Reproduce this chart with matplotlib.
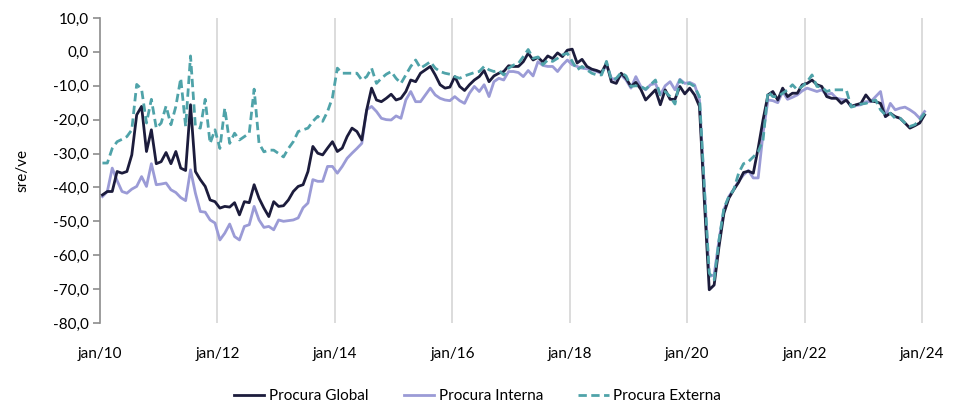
import numpy as np
import matplotlib
matplotlib.use("Agg")
import matplotlib.pyplot as plt
from matplotlib.ticker import FuncFormatter

# monthly values, jan/10 .. jan/24 (sre/ve)
procura_global = [
    -42.2, -41.2, -41.2, -35.3, -35.8, -35.3, -30.4, -18.6, -16.1, -29.4,
    -23.0, -33.0, -32.4, -29.7, -33.0, -29.4, -34.3, -35.0, -15.6, -35.3,
    -37.7, -39.7, -43.7, -44.2, -46.1, -45.6, -45.8, -44.5, -48.1, -44.2,
    -44.5, -39.2, -43.2, -46.1, -48.6, -44.2, -45.6, -45.4, -43.7, -41.2,
    -39.7, -39.2, -35.3, -27.9, -29.9, -30.4, -28.4, -26.5, -29.4, -28.4,
    -25.0, -22.5, -23.5, -26.0, -17.1, -10.7, -14.2, -14.7, -13.7, -12.5,
    -14.2, -13.7, -11.7, -8.3, -8.8, -6.3, -5.3, -4.3, -6.8, -9.7,
    -10.7, -10.4, -7.3, -10.2, -11.4, -9.7, -8.3, -7.3, -5.5, -8.8,
    -7.1, -6.3, -5.8, -4.1, -4.3, -4.3, -2.9, -0.4, -2.4, -1.6,
    -3.0, -1.2, -2.0, -0.3, -1.4, 0.5, 0.8, -3.3, -2.2, -4.3,
    -5.1, -5.5, -6.1, -3.3, -8.8, -9.3, -6.3, -7.8, -10.2, -9.0,
    -11.0, -14.2, -12.7, -11.2, -15.6, -11.2, -14.0, -14.0, -10.2, -12.4,
    -10.7, -12.7, -16.1, -44.0, -70.2, -68.8, -57.4, -47.6, -43.2, -40.7,
    -38.5, -35.6, -35.2, -35.8, -28.4, -20.0, -12.7, -11.7, -14.2, -10.7,
    -13.2, -12.2, -12.2, -9.7, -9.3, -8.3, -9.7, -10.2, -13.2, -13.7,
    -13.7, -15.2, -14.2, -16.1, -15.6, -15.2, -12.7, -14.5, -14.7, -15.2,
    -19.1, -18.1, -19.1, -19.6, -21.0, -22.5, -21.8, -21.0, -18.6,
]
procura_interna = [
    -42.7, -41.2, -34.3, -38.0, -41.2, -41.7, -40.5, -39.7, -36.8, -39.7,
    -33.0, -39.2, -39.0, -38.7, -40.7, -41.5, -43.0, -43.9, -34.8, -41.7,
    -47.1, -47.3, -49.6, -50.5, -55.5, -53.5, -50.8, -54.5, -55.5, -51.5,
    -51.0, -45.6, -49.6, -51.8, -51.5, -52.5, -49.6, -50.0, -49.8, -49.6,
    -49.0, -46.0, -44.6, -37.7, -38.2, -38.2, -33.8, -33.8, -35.8, -33.8,
    -31.4, -29.9, -28.5, -27.0, -17.1, -16.1, -17.6, -19.6, -20.0, -20.1,
    -18.9, -19.6, -14.2, -11.7, -14.7, -14.7, -12.7, -10.7, -12.7, -13.7,
    -14.2, -14.4, -13.2, -14.4, -15.2, -12.2, -10.2, -11.7, -9.7, -13.2,
    -8.8, -7.8, -8.3, -5.8, -5.8, -6.1, -7.3, -5.5, -7.1, -2.9,
    -4.0, -4.3, -4.3, -5.8, -3.9, -2.4, -3.8, -4.3, -4.8, -5.0,
    -5.3, -5.8, -6.3, -3.8, -7.8, -8.3, -6.8, -8.3, -10.7, -7.3,
    -10.2, -11.2, -9.7, -9.3, -12.7, -10.0, -8.8, -11.2, -8.1, -9.3,
    -9.0, -9.7, -14.2, -40.0, -66.3, -65.8, -55.5, -46.6, -42.7, -40.5,
    -38.2, -36.3, -35.0, -37.2, -37.2, -24.0, -14.2, -14.4, -15.0, -11.7,
    -14.0, -13.4, -12.7, -11.5, -10.7, -11.2, -11.7, -11.2, -12.7, -12.2,
    -13.7, -14.0, -14.2, -16.1, -15.8, -15.6, -14.7, -14.7, -13.2, -11.7,
    -19.1, -15.2, -17.1, -16.6, -16.3, -17.1, -18.1, -19.6, -17.6,
]
procura_externa = [
    -32.8, -32.8, -28.5, -26.5, -25.8, -25.0, -23.0, -9.6, -11.0, -21.0,
    -14.0, -22.5, -21.0, -16.0, -21.5, -16.1, -7.8, -22.0, -1.2, -22.0,
    -22.5, -14.0, -27.0, -23.0, -28.5, -16.6, -27.0, -24.0, -26.0, -25.0,
    -24.0, -11.0, -27.0, -29.5, -29.0, -29.0, -30.0, -31.0, -28.5, -26.5,
    -23.5, -23.0, -22.5, -20.5, -19.0, -20.5, -17.6, -13.5, -4.8, -6.3,
    -6.3, -6.3, -6.3, -8.3, -7.3, -4.8, -9.3, -7.8, -6.6, -5.8,
    -7.8, -9.3, -6.8, -4.3, -2.4, -4.8, -3.9, -2.9, -4.8, -5.8,
    -6.3, -6.6, -7.3, -7.8, -7.1, -6.6, -6.1, -5.8, -4.3, -5.3,
    -5.8, -5.5, -6.8, -4.8, -3.9, -3.4, -1.4, 0.7, -1.9, -1.5,
    -3.8, -2.4, -2.8, -1.9, -0.9, -0.4, -2.8, -5.3, -4.3, -5.3,
    -6.3, -6.8, -6.8, -2.8, -8.3, -7.8, -6.1, -7.1, -10.2, -10.0,
    -10.2, -11.0, -9.7, -8.3, -12.7, -11.7, -13.2, -15.4, -8.3, -9.7,
    -9.3, -10.2, -13.2, -40.0, -65.3, -67.3, -55.5, -46.1, -42.7, -40.7,
    -35.8, -33.0, -32.4, -31.0, -29.5, -25.9, -11.7, -13.2, -13.2, -12.2,
    -11.2, -9.7, -11.2, -10.2, -8.8, -6.8, -10.2, -10.4, -11.7, -11.2,
    -11.2, -11.2, -11.2, -16.3, -15.9, -15.4, -15.2, -14.7, -14.2, -17.1,
    -18.6, -18.1, -19.6, -19.6, -21.0, -22.0, -21.5, -20.1, -18.1,
]
tick_labels = ["jan/10", "jan/12", "jan/14", "jan/16", "jan/18", "jan/20", "jan/22", "jan/24"]

plt.rcParams['font.family'] = ['Lato', 'DejaVu Sans']

n = len(procura_global)
x = np.arange(n) + 0.5

fig = plt.figure(figsize=(9.55, 4.05), dpi=100)
ax = fig.add_axes([0.1047, 0.2025, 0.866, 0.7531])

ax.plot(x, procura_global, color="#1c1c3c", lw=2.0, label="Procura Global", zorder=3)
ax.plot(x, procura_interna, color="#9b9bd6", lw=2.0, label="Procura Interna", zorder=2)
ax.plot(x, procura_externa, color="#4fa3a9", lw=2.0, ls=(0, (3, 1.6)), label="Procura Externa", zorder=4)

ax.set_xlim(0, n)
ax.set_ylim(-80, 10)
ax.set_yticks(np.arange(-80, 11, 10))
ax.yaxis.set_major_formatter(FuncFormatter(lambda v, p: f"{v:.1f}".replace(".", ",")))
ticks = np.arange(0, n, 24)
ax.set_xticks(ticks)
ax.set_xticklabels(tick_labels)
for t in ticks[1:]:
    ax.axvline(t, color="#d9d9d9", lw=1.3, zorder=0)

for s in ["top", "right", "bottom"]:
    ax.spines[s].set_visible(False)
ax.spines["left"].set_color("#8c8c8c")
ax.spines["left"].set_linewidth(1.2)
ax.tick_params(axis="y", length=5, width=1.2, color="#8c8c8c", labelsize=11, pad=3)
ax.tick_params(axis="x", length=0, labelsize=11, pad=17)
ax.set_ylabel("sre/ve", fontsize=11, labelpad=17)

fig.legend(loc="center", bbox_to_anchor=(0.5, 0.022), ncol=3, frameon=False,
           fontsize=11, handlelength=2.0, columnspacing=2.3, handletextpad=0.3,
           borderpad=0.2)

fig.savefig("out.png", dpi=100)
